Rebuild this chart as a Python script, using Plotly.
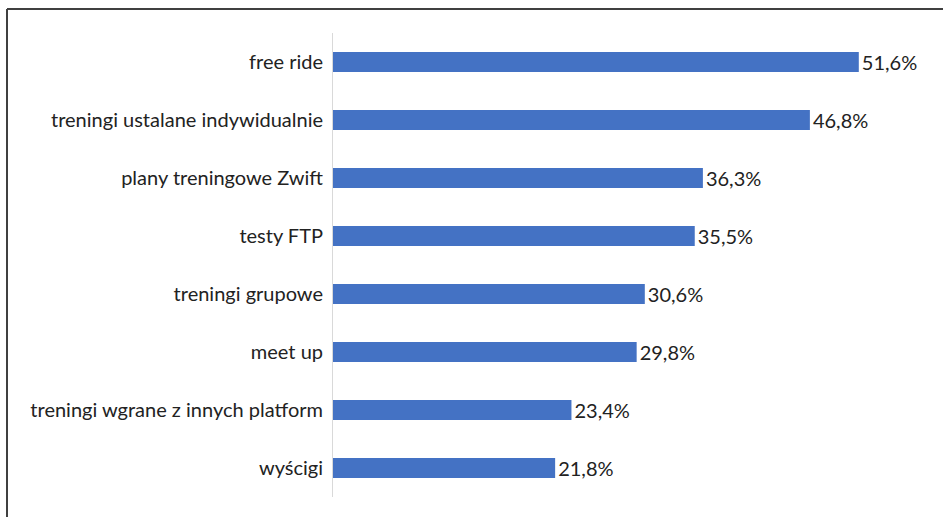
import plotly.graph_objects as go

categories = ["free ride", "treningi ustalane indywidualnie", "plany treningowe Zwift",
              "testy FTP", "treningi grupowe", "meet up",
              "treningi wgrane z innych platform", "wyścigi"]
values = [51.6, 46.8, 36.3, 35.5, 30.6, 29.8, 23.4, 21.8]
labels = [f"{v:.1f}%".replace(".", ",") for v in values]

W, H = 943, 517
L, R, T, B = 333, 933, 33, 497

fig = go.Figure(go.Bar(
    y=categories, x=values, orientation="h",
    marker=dict(color="#4472C4", line=dict(width=0)),
    text=labels, textposition="outside", cliponaxis=False,
    constraintext="none",
    textfont=dict(size=20, color="#222222", family="Lato"),
    width=0.345,
))

fig.update_layout(
    width=W, height=H,
    margin=dict(l=L, r=W - R, t=T, b=H - B),
    paper_bgcolor="white", plot_bgcolor="white",
    showlegend=False,
    font=dict(family="Lato", size=20, color="#222222"),
    uniformtext=dict(mode=False),
    xaxis=dict(range=[0, (R - L) / 10.19], showgrid=False, zeroline=False,
               showticklabels=False, showline=False),
    yaxis=dict(autorange="reversed", showgrid=False, zeroline=False,
               showline=True, linecolor="#D9D9D9", linewidth=1,
               ticks="outside", ticklen=5, tickcolor="rgba(0,0,0,0)",
               tickfont=dict(size=20, color="#222222", family="Lato")),
    shapes=[
        dict(type="line", xref="paper", yref="paper",
             x0=(7 - L) / (R - L), x1=(7 - L) / (R - L),
             y0=1 + (T - 9) / (B - T), y1=-(H - B) / (B - T) - 0.01,
             line=dict(color="#404040", width=2)),
        dict(type="line", xref="paper", yref="paper",
             x0=(7 - L) / (R - L), x1=(W + 5 - L) / (R - L),
             y0=1 + (T - 9) / (B - T), y1=1 + (T - 9) / (B - T),
             line=dict(color="#404040", width=2)),
    ],
)

fig.write_html("out.html")
